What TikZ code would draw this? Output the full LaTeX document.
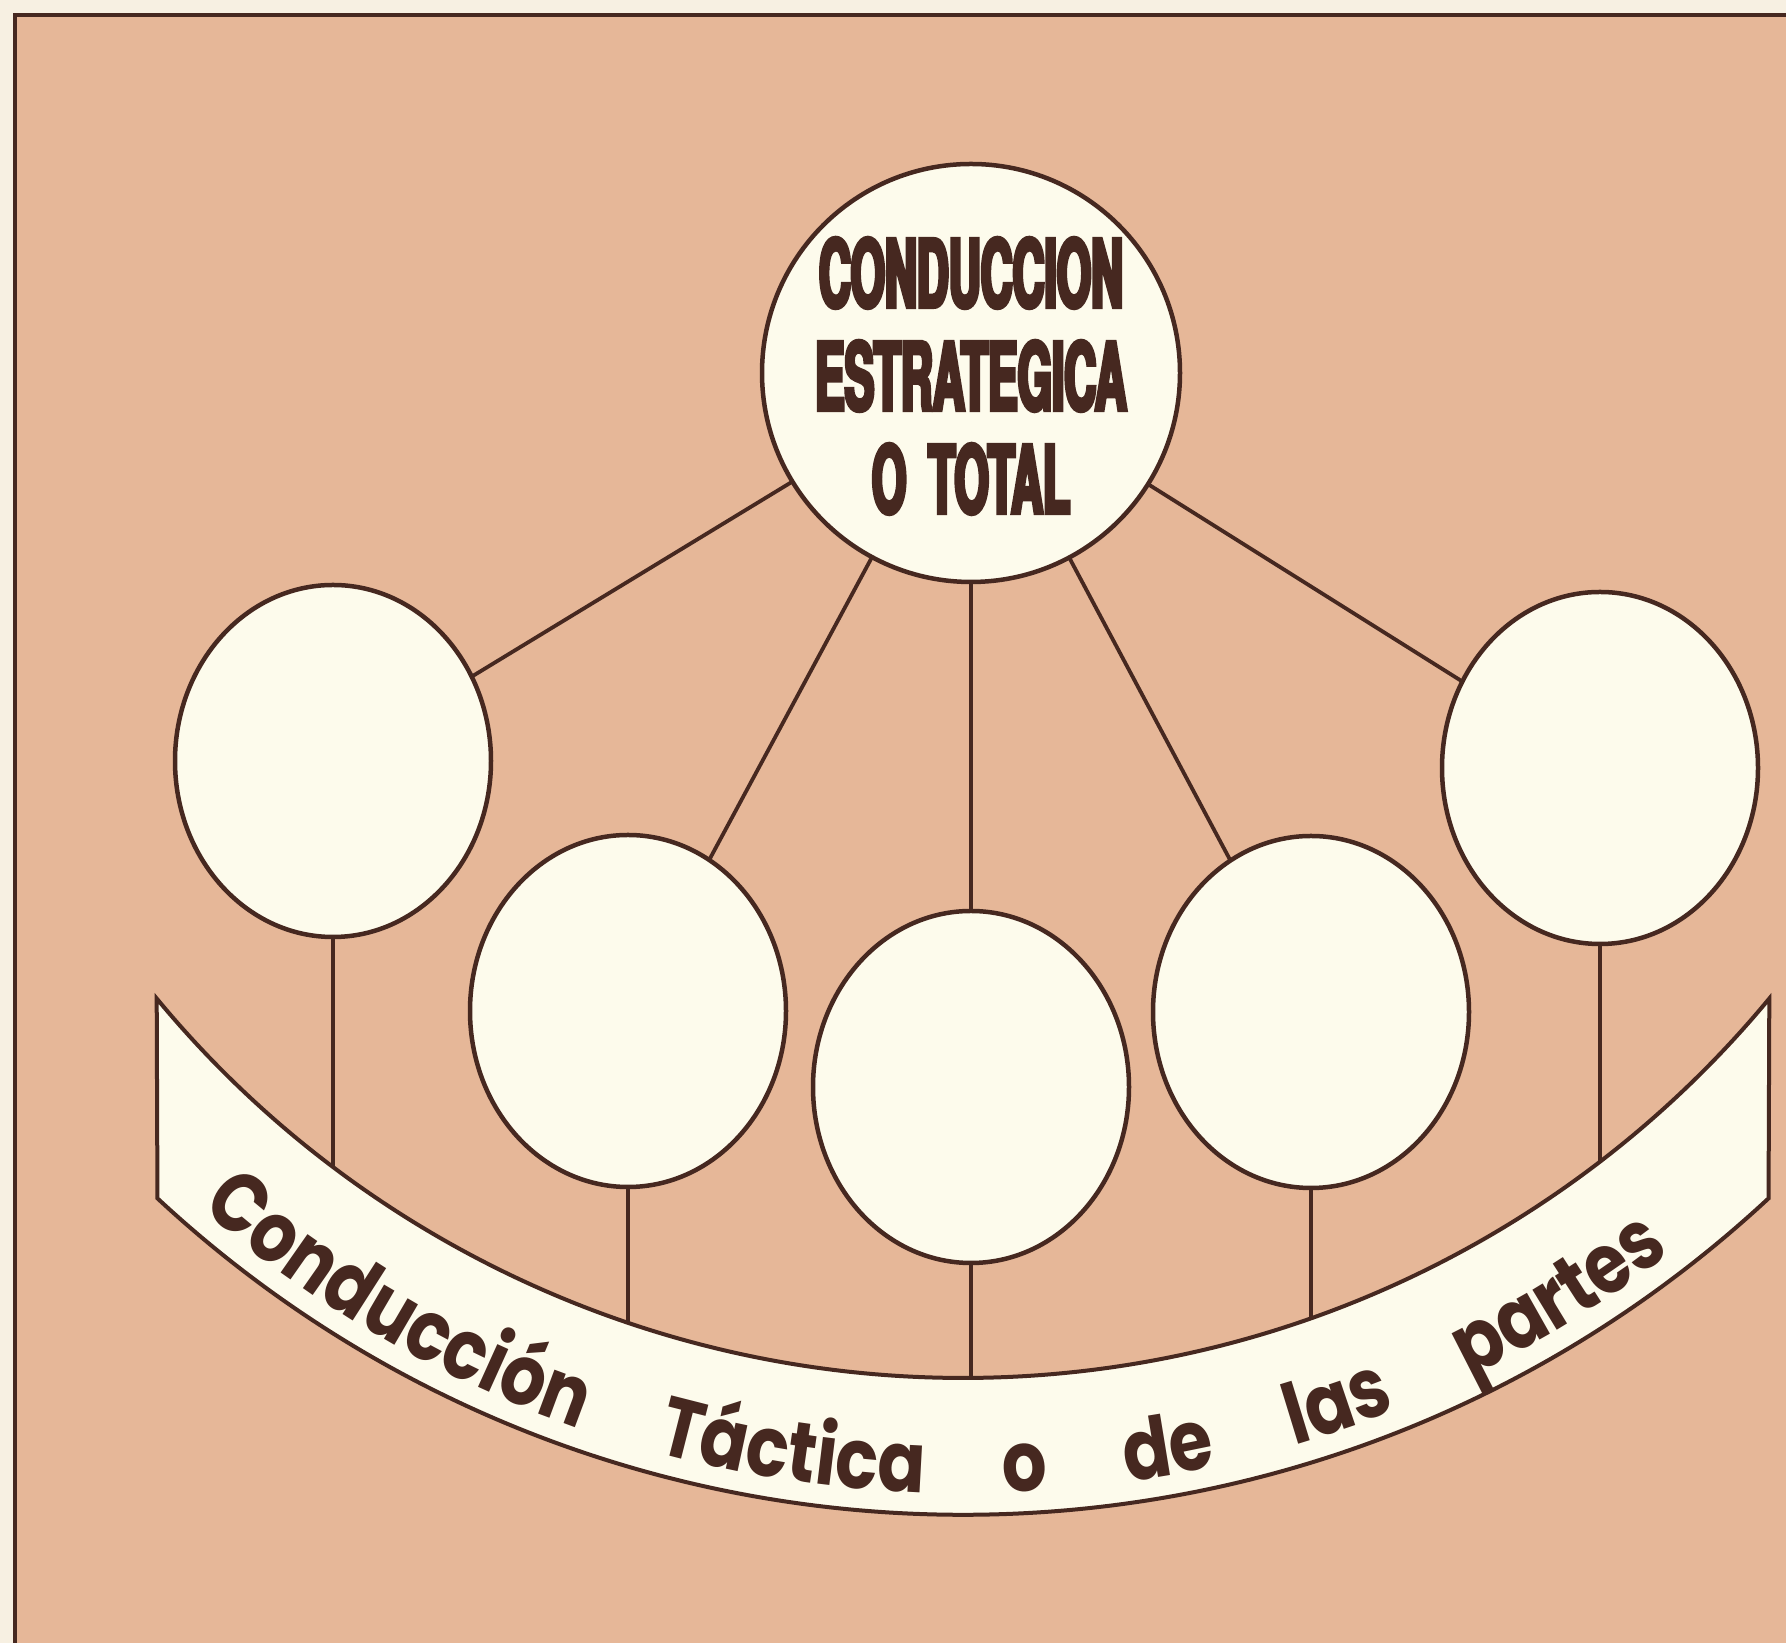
\documentclass[tikz,border=0pt]{standalone}
\usepackage{fontspec}
\usetikzlibrary{shapes.geometric,decorations.text,calc}
\newfontfamily\topfont[FakeStretch=0.47,FakeBold=4]{texgyreheros-bold.otf}
\newfontfamily\bannerfont[FakeStretch=0.84]{Poppins}
\definecolor{paperc}{RGB}{247,240,226}
\definecolor{peach}{RGB}{230,183,152}
\definecolor{cream}{RGB}{253,251,236}
\definecolor{inkc}{RGB}{70,40,32}
\begin{document}
\begin{tikzpicture}[x=1pt,y=1pt,
  conn/.style={draw=inkc,line width=3.8pt},
  bigdisc/.style={circle,draw=inkc,line width=4.5pt,fill=cream,minimum size=418pt,inner sep=0pt,outer sep=0pt},
  smallel/.style={ellipse,draw=inkc,line width=4.5pt,fill=cream,minimum width=316pt,minimum height=352pt,inner sep=0pt,outer sep=0pt},
  toptext/.style={align=center,text=inkc,font=\topfont\fontsize{94}{103}\selectfont,inner sep=0pt},
  bannerstyle/.style={draw=inkc,line width=4pt,fill=cream,line join=miter}]
\useasboundingbox (0,0) rectangle (1786,1643);
\fill[paperc] (0,0) rectangle (1786,1643);
\fill[peach] (15,0) rectangle (1786,1628);
\draw[inkc,line width=3.5pt] (15,0) -- (15,1628) -- (1786,1628);

% nodes
\node[bigdisc] (top) at (971,1270) {};
\node[toptext] (title) at (971,1267) {CONDUCCION\\ESTRATEGICA\\O\hspace{22pt}TOTAL};
\node[smallel] (c1) at (333,882) {};
\node[smallel] (c2) at (628,632) {};
\node[smallel] (c3) at (971,556) {};
\node[smallel] (c4) at (1311,631) {};
\node[smallel] (c5) at (1600,875) {};

% connectors from the top circle
\draw[conn] (top) -- (c1);
\draw[conn] (top) -- (c2);
\draw[conn] (top) -- (c3);
\draw[conn] (top) -- (c4);
\draw[conn] (top) -- (c5);

% stems down to the banner
\coordinate (b1) at (333,470);
\coordinate (b2) at (628,315);
\coordinate (b3) at (971,262);
\coordinate (b4) at (1311,320);
\coordinate (b5) at (1600,477);
\draw[conn] (c1) -- (b1);
\draw[conn] (c2) -- (b2);
\draw[conn] (c3) -- (b3);
\draw[conn] (c4) -- (b4);
\draw[conn] (c5) -- (b5);

% banner
\coordinate (bc) at (963,1311.5);
\draw[bannerstyle] ($(bc)+(219.6:1046.5)$) arc[start angle=219.6,end angle=320.4,radius=1046.5]
  -- ($(bc)+(312.9:1183.4)$) arc[start angle=312.9,end angle=227.1,radius=1183.4] -- cycle;

\path[decorate,decoration={text along path,text color=inkc,
   text={|\bannerfont\bfseries\fontsize{84}{86}\selectfont|Conducción Táctica o de las partes},
   text align={fit to path stretching spaces}}]
   ($(bc)+(229:1162)$) arc[start angle=229,end angle=307.5,radius=1162];
\end{tikzpicture}
\end{document}
